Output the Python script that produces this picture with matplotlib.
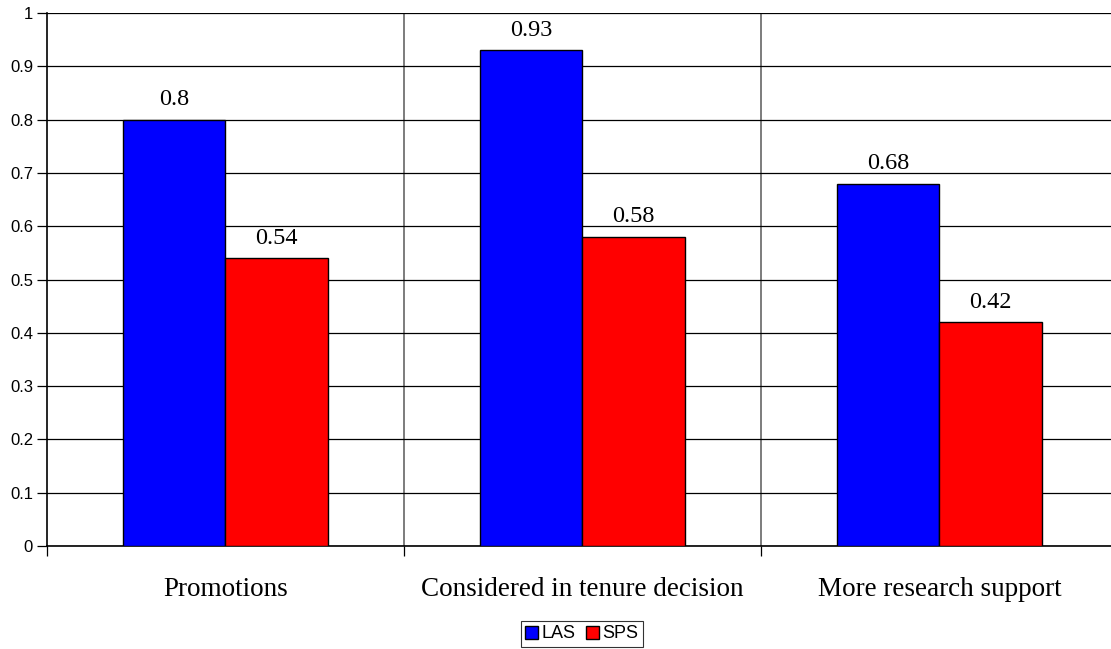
import matplotlib
matplotlib.use("Agg")
import matplotlib.pyplot as plt
import numpy as np

categories = ["Promotions", "Considered in tenure decision", "More research support"]
series_names = ["LAS", "SPS"]
las_values = [0.8, 0.93, 0.68]
sps_values = [0.54, 0.58, 0.42]
y_ticks = [0, 0.1, 0.2, 0.3, 0.4, 0.5, 0.6, 0.7, 0.8, 0.9, 1]
y_tick_labels = ["0", "0.1", "0.2", "0.3", "0.4", "0.5", "0.6", "0.7", "0.8", "0.9", "1"]

fig = plt.figure(figsize=(11.11, 6.49), dpi=100)
ax = fig.add_axes([47 / 1111, 1 - 546 / 649, (1118 - 47) / 1111, (546 - 13) / 649])

x = np.arange(len(categories))
w = 0.286
b1 = ax.bar(x - w / 2, las_values, w, color="#0000FF", edgecolor="black", linewidth=1.0,
            label=series_names[0], zorder=3)
b2 = ax.bar(x + w / 2, sps_values, w, color="#FF0000", edgecolor="black", linewidth=1.0,
            label=series_names[1], zorder=3)

for bars, vals in ((b1, las_values), (b2, sps_values)):
    for rect, v in zip(bars, vals):
        ax.annotate(f"{v:g}", (rect.get_x() + rect.get_width() / 2, v),
                    xytext=(0, 10.5), textcoords="offset points", ha="center", va="baseline",
                    family="Liberation Serif", fontsize=17.5)

ax.set_xlim(-0.5, len(categories) - 0.5)
ax.set_ylim(0, 1)

# horizontal grid at each tick
ax.set_yticks(y_ticks)
ax.set_yticklabels(y_tick_labels, family="Liberation Sans", fontsize=12)
ax.yaxis.grid(True, color="black", linewidth=0.9, zorder=0)
ax.tick_params(axis="y", direction="out", length=7, width=0.9, pad=3)

# category boundaries as major ticks, names as minor ticks
bounds = np.arange(len(categories) + 1) - 0.5
ax.set_xticks(bounds)
ax.set_xticklabels([""] * len(bounds))
ax.set_xticks(x, minor=True)
ax.set_xticklabels(categories, minor=True, family="Liberation Serif", fontsize=19.5)
ax.tick_params(axis="x", which="major", direction="out", length=7, width=0.9)
ax.tick_params(axis="x", which="minor", length=0, pad=22)
for bx in bounds[1:-1]:
    ax.axvline(bx, color="#666666", linewidth=1.2, zorder=1)

for side in ("top", "right"):
    ax.spines[side].set_visible(False)
ax.spines["left"].set_linewidth(1.2)
ax.spines["bottom"].set_linewidth(1.2)

leg = fig.legend(handles=[b1, b2], labels=series_names, loc="center",
                 bbox_to_anchor=(582 / 1111, 1 - 634 / 649), ncol=2,
                 prop={"family": "Liberation Sans", "size": 13},
                 frameon=True, fancybox=False, edgecolor="black",
                 handlelength=0.7, handleheight=0.7, handletextpad=0.2,
                 columnspacing=0.6, borderpad=0.25, borderaxespad=0)
leg.get_frame().set_linewidth(0.8)

fig.savefig("out.png", dpi=100)
